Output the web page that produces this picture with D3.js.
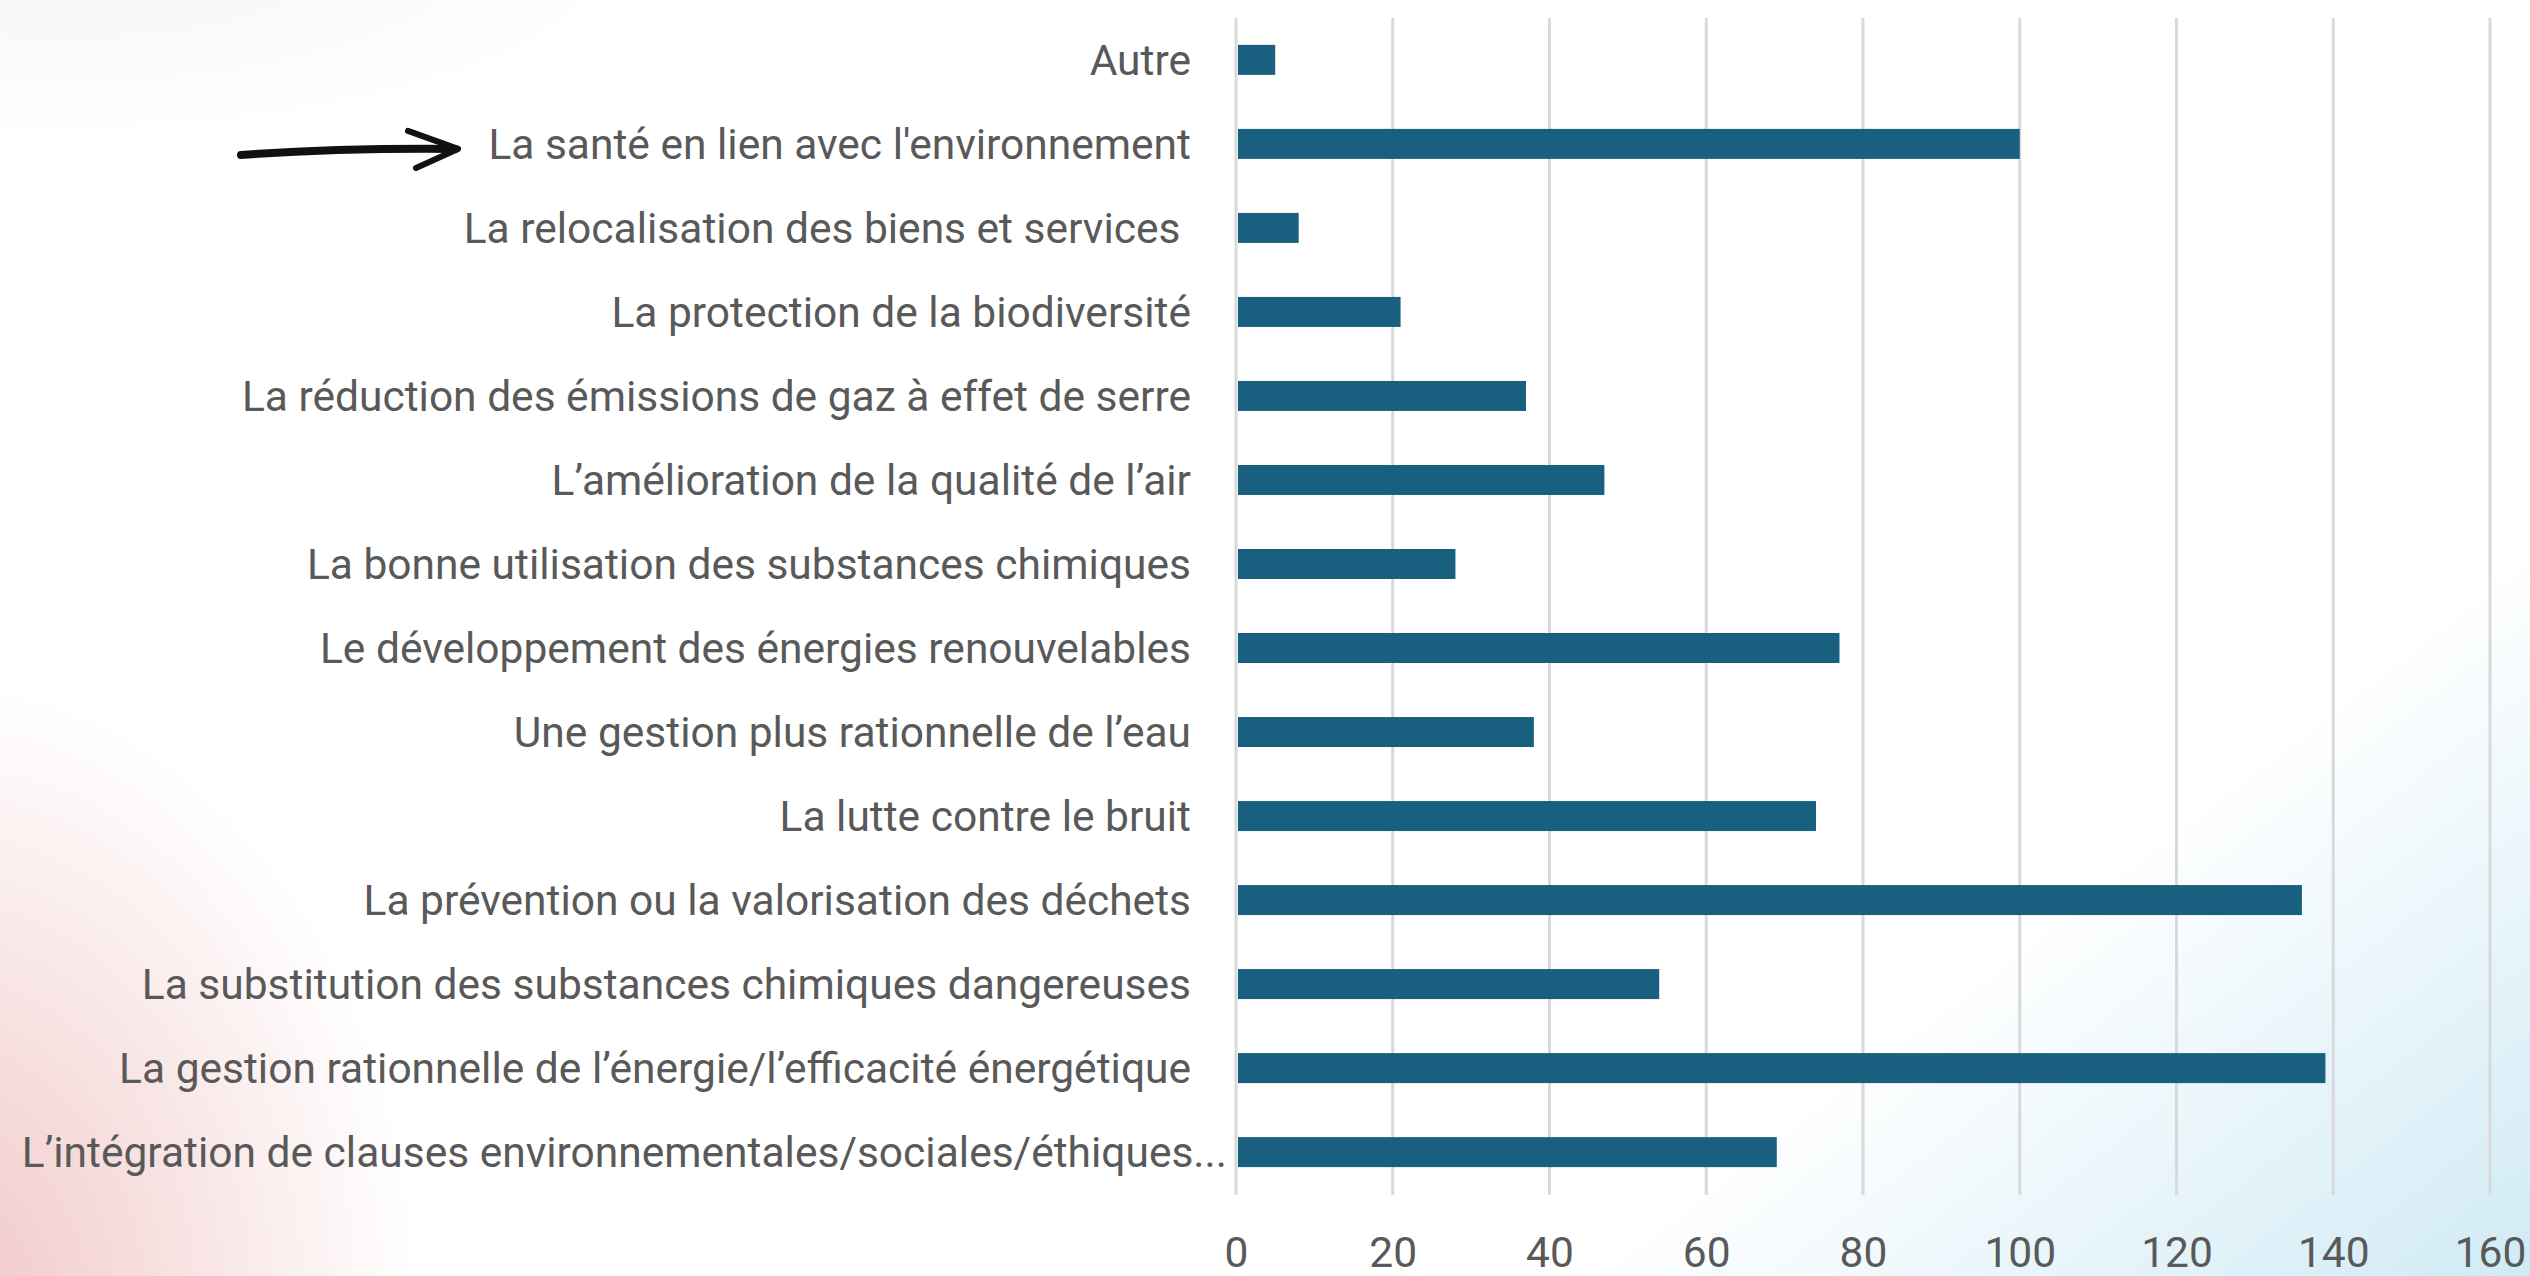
<!DOCTYPE html>
<html>
<head>
<meta charset="utf-8">
<script src="https://cdn.jsdelivr.net/npm/d3@7"></script>
<style>
    html, body { margin: 0; padding: 0; background: #fff; }
    svg text { font-family: Roboto, "Liberation Sans", sans-serif; fill: #595959; }
</style>
</head>
<body>
<svg id="chart" width="2530" height="1276"></svg>
<script>
    // categories, top to bottom as in the picture
    var categories = [
        "Autre",
        "La santé en lien avec l'environnement",
        "La relocalisation des biens et services ",
        "La protection de la biodiversité",
        "La réduction des émissions de gaz à effet de serre",
        "L’amélioration de la qualité de l’air",
        "La bonne utilisation des substances chimiques",
        "Le développement des énergies renouvelables",
        "Une gestion plus rationnelle de l’eau",
        "La lutte contre le bruit",
        "La prévention ou la valorisation des déchets",
        "La substitution des substances chimiques dangereuses",
        "La gestion rationnelle de l’énergie/l’efficacité énergétique",
        "L’intégration de clauses environnementales/sociales/éthiques..."
    ];
    var values = [5, 100, 8, 21, 37, 47, 28, 77, 38, 74, 136, 54, 139, 69];
    var xTicks = [0, 20, 40, 60, 80, 100, 120, 140, 160];
    var highlighted = "La santé en lien avec l'environnement";

    var W = 2530, H = 1276;
    var svg = d3.select("#chart");

    // background washes
    var defs = svg.append("defs");
    function wash(id, color, op) {
        var g = defs.append("radialGradient").attr("id", id);
        g.append("stop").attr("offset", "0%").attr("stop-color", color).attr("stop-opacity", op);
        g.append("stop").attr("offset", "100%").attr("stop-color", color).attr("stop-opacity", 0);
        return g;
    }
    wash("pink", "#f0c2c2", 0.95);
    wash("grey", "#e9ecee", 0.6);
    var lg = defs.append("linearGradient").attr("id", "blue")
        .attr("gradientUnits", "userSpaceOnUse")
        .attr("x1", 2080).attr("y1", 880).attr("x2", 2480).attr("y2", 1400);
    lg.append("stop").attr("offset", "0%").attr("stop-color", "#cbe8f4").attr("stop-opacity", 0);
    lg.append("stop").attr("offset", "100%").attr("stop-color", "#cbe8f4").attr("stop-opacity", 1);

    svg.append("rect").attr("width", W).attr("height", H).attr("fill", "#fff");
    svg.append("rect").attr("width", W).attr("height", H).attr("fill", "url(#blue)");
    svg.append("ellipse").attr("cx", -60).attr("cy", 1320).attr("rx", 480).attr("ry", 640).attr("fill", "url(#pink)");
    svg.append("ellipse").attr("cx", 60).attr("cy", -60).attr("rx", 600).attr("ry", 200).attr("fill", "url(#grey)");

    var x = d3.scaleLinear().domain([0, 160]).range([1236, 2490]);
    var y = d3.scaleBand().domain(categories).range([18, 1194]).paddingInner(0.643).paddingOuter(0.32);

    // gridlines
    svg.append("g").selectAll("line")
        .data(xTicks).enter()
        .append("line")
        .attr("x1", function(d) { return x(d); })
        .attr("x2", function(d) { return x(d); })
        .attr("y1", 18).attr("y2", 1195)
        .attr("stroke", "#d9d9d9").attr("stroke-width", 3);

    // bars
    svg.append("g").selectAll("rect")
        .data(values).enter()
        .append("rect")
        .attr("x", x(0) + 2)
        .attr("y", function(d, i) { return y(categories[i]); })
        .attr("width", function(d) { return x(d) - x(0) - 2; })
        .attr("height", y.bandwidth())
        .attr("fill", "#185f80");

    // category labels (the truncated one runs up to the axis)
    svg.append("g").selectAll("text")
        .data(categories).enter()
        .append("text")
        .attr("x", function(d) { return d.endsWith("...") ? x(0) - 9 : x(0) - 45; })
        .attr("y", function(d) { return y(d) + y.bandwidth() / 2; })
        .attr("dy", "0.36em")
        .attr("text-anchor", "end")
        .style("white-space", "pre")
        .style("font-size", "42.5px")
        .text(function(d) { return d; });

    // x axis tick labels
    var xAxis = d3.axisBottom(x).tickValues(xTicks).tickSize(0).tickPadding(0);
    var ax = svg.append("g").attr("transform", "translate(0,1237)").call(xAxis);
    ax.select(".domain").remove();
    ax.selectAll("text")
        .style("font-size", "42.5px")
        .style("font-family", "Roboto, 'Liberation Sans', sans-serif")
        .attr("fill", "#595959");

    // hand-drawn arrow pointing at the highlighted label
    var ay = y(highlighted) + y.bandwidth() / 2 + 6;
    var arrow = svg.append("g").attr("fill", "none").attr("stroke", "#111").attr("stroke-linecap", "round").attr("stroke-linejoin", "round");
    arrow.append("path")
        .attr("d", "M241," + (ay + 5) + " Q340," + (ay - 2) + " 455," + (ay - 1))
        .attr("stroke-width", 8);
    arrow.append("path")
        .attr("d", "M408," + (ay - 19) + " L458," + (ay - 1) + " L416," + (ay + 18))
        .attr("stroke-width", 6);
</script>
</body>
</html>
